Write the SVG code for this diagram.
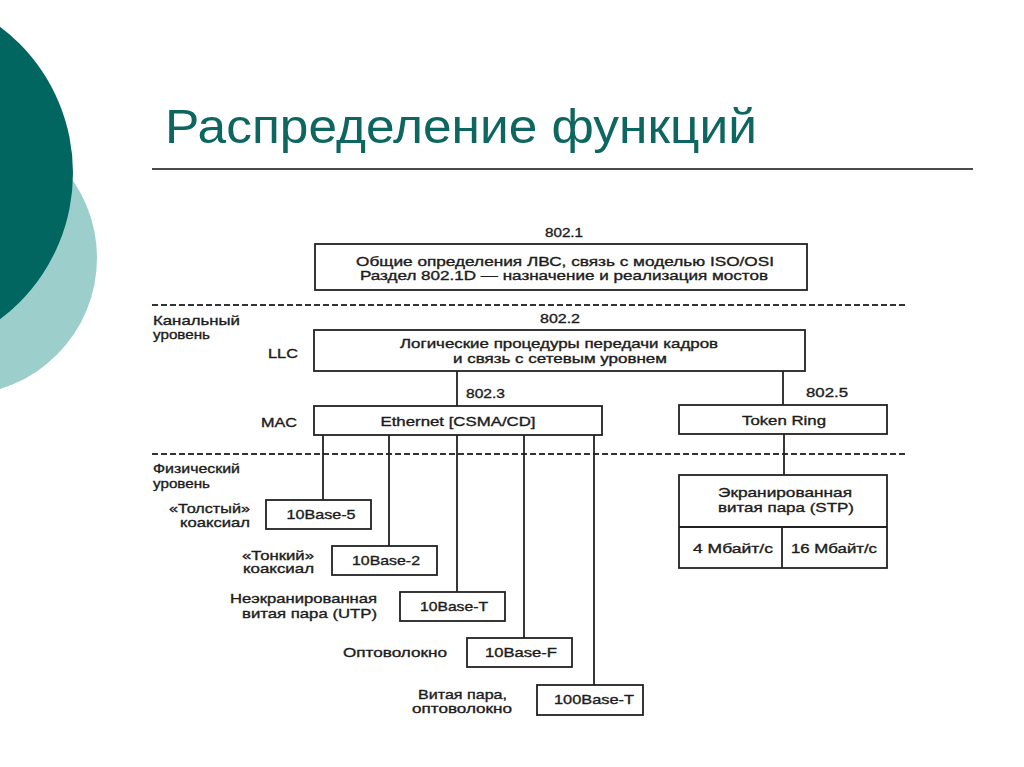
<svg xmlns="http://www.w3.org/2000/svg" width="1024" height="767" viewBox="0 0 1024 767">
<style>
.t{font-family:"Liberation Sans",Arial,sans-serif;font-size:13px;fill:#1c1c1c;stroke:#1c1c1c;stroke-width:0.35}
.m{text-anchor:middle}
.e{text-anchor:end}
.box{fill:#fff;stroke:#222;stroke-width:1.8}
.ln{stroke:#222;stroke-width:1.8;fill:none}
.dash{stroke:#333;stroke-width:2;stroke-dasharray:6 3;fill:none}
</style>
<rect width="1024" height="767" fill="#fff"/>
<g id="decor">
<circle cx="-40" cy="258" r="137" fill="#9ccfcc"/>
<circle cx="-110" cy="173" r="183" fill="#016660"/>
<text x="165" y="143" font-family="Liberation Sans,Arial,sans-serif" font-size="49" fill="#0e6660" textLength="592" lengthAdjust="spacingAndGlyphs">Распределение функций</text>
<line x1="152" y1="169" x2="973" y2="169" stroke="#111" stroke-width="1.5"/>
</g>
<g id="connectors">
<line class="dash" x1="152" y1="305" x2="907" y2="305"/>
<line class="dash" x1="152" y1="454" x2="907" y2="454"/>
<line class="ln" x1="457" y1="371" x2="457" y2="406"/>
<line class="ln" x1="783" y1="371" x2="783" y2="405"/>
<line class="ln" x1="323" y1="435" x2="323" y2="500"/>
<line class="ln" x1="389" y1="435" x2="389" y2="546"/>
<line class="ln" x1="457" y1="435" x2="457" y2="592"/>
<line class="ln" x1="524" y1="435" x2="524" y2="638"/>
<line class="ln" x1="594" y1="435" x2="594" y2="685"/>
<line class="ln" x1="784" y1="434" x2="784" y2="475"/>
</g>
<g id="labels">
<text class="t" x="153" y="325" textLength="87" lengthAdjust="spacingAndGlyphs">Канальный</text>
<text class="t" x="153" y="339" textLength="57" lengthAdjust="spacingAndGlyphs">уровень</text>
<text class="t" x="268" y="358" textLength="30" lengthAdjust="spacingAndGlyphs">LLC</text>
<text class="t" x="261" y="427" textLength="36" lengthAdjust="spacingAndGlyphs">MAC</text>
<text class="t" x="153" y="473" textLength="87" lengthAdjust="spacingAndGlyphs">Физический</text>
<text class="t" x="153" y="488" textLength="57" lengthAdjust="spacingAndGlyphs">уровень</text>
<text class="t" x="466" y="398" textLength="39" lengthAdjust="spacingAndGlyphs">802.3</text>
<text class="t" x="806" y="397" textLength="42" lengthAdjust="spacingAndGlyphs">802.5</text>
<text class="t e" x="250" y="513" textLength="81" lengthAdjust="spacingAndGlyphs">«Толстый»</text>
<text class="t e" x="250" y="527" textLength="70" lengthAdjust="spacingAndGlyphs">коаксиал</text>
<text class="t e" x="314" y="560" textLength="72" lengthAdjust="spacingAndGlyphs">«Тонкий»</text>
<text class="t e" x="314" y="573" textLength="71" lengthAdjust="spacingAndGlyphs">коаксиал</text>
<text class="t e" x="377" y="603" textLength="147" lengthAdjust="spacingAndGlyphs">Неэкранированная</text>
<text class="t e" x="377" y="618" textLength="135" lengthAdjust="spacingAndGlyphs">витая пара (UTP)</text>
<text class="t e" x="447" y="657" textLength="104" lengthAdjust="spacingAndGlyphs">Оптоволокно</text>
<text class="t e" x="507" y="699" textLength="89" lengthAdjust="spacingAndGlyphs">Витая пара,</text>
<text class="t e" x="512" y="713" textLength="100" lengthAdjust="spacingAndGlyphs">оптоволокно</text>
</g>
<g id="n8021">
<text class="t m" x="564" y="237" textLength="38" lengthAdjust="spacingAndGlyphs">802.1</text>
<rect class="box" x="315" y="244" width="492" height="46"/>
<text class="t m" x="565" y="266" textLength="418" lengthAdjust="spacingAndGlyphs">Общие определения ЛВС, связь с моделью ISO/OSI</text>
<text class="t m" x="564" y="280" textLength="408" lengthAdjust="spacingAndGlyphs">Раздел 802.1D — назначение и реализация мостов</text>
</g>
<g id="llc">
<text class="t m" x="560" y="323" textLength="40" lengthAdjust="spacingAndGlyphs">802.2</text>
<rect class="box" x="314" y="330" width="491" height="41"/>
<text class="t m" x="559" y="348" textLength="318" lengthAdjust="spacingAndGlyphs">Логические процедуры передачи кадров</text>
<text class="t m" x="560" y="363" textLength="214" lengthAdjust="spacingAndGlyphs">и связь с сетевым уровнем</text>
</g>
<g id="ethernet">
<rect class="box" x="314" y="406" width="288" height="29"/>
<text class="t m" x="458" y="426" textLength="155" lengthAdjust="spacingAndGlyphs">Ethernet [CSMA/CD]</text>
</g>
<g id="tokenring">
<rect class="box" x="679" y="405" width="208" height="29"/>
<text class="t m" x="784" y="425" textLength="84" lengthAdjust="spacingAndGlyphs">Token Ring</text>
</g>
<g id="b10base5">
<rect class="box" x="266" y="500" width="105" height="29"/>
<text class="t m" x="321" y="519" textLength="69" lengthAdjust="spacingAndGlyphs">10Base-5</text>
</g>
<g id="b10base2">
<rect class="box" x="332" y="546" width="105" height="29"/>
<text class="t m" x="386" y="565" textLength="68" lengthAdjust="spacingAndGlyphs">10Base-2</text>
</g>
<g id="b10baseT">
<rect class="box" x="400" y="592" width="105" height="29"/>
<text class="t m" x="454" y="611" textLength="68" lengthAdjust="spacingAndGlyphs">10Base-T</text>
</g>
<g id="b10baseF">
<rect class="box" x="467" y="638" width="105" height="29"/>
<text class="t m" x="521" y="657" textLength="72" lengthAdjust="spacingAndGlyphs">10Base-F</text>
</g>
<g id="b100baseT">
<rect class="box" x="537" y="685" width="106" height="30"/>
<text class="t m" x="594" y="704" textLength="80" lengthAdjust="spacingAndGlyphs">100Base-T</text>
</g>
<g id="stp">
<rect class="box" x="679" y="475" width="208" height="93"/>
<line class="ln" x1="679" y1="527" x2="887" y2="527"/>
<line class="ln" x1="782" y1="527" x2="782" y2="568"/>
<text class="t m" x="785" y="497" textLength="134" lengthAdjust="spacingAndGlyphs">Экранированная</text>
<text class="t m" x="786" y="512" textLength="136" lengthAdjust="spacingAndGlyphs">витая пара (STP)</text>
<text class="t m" x="733" y="553" textLength="80" lengthAdjust="spacingAndGlyphs">4 Мбайт/с</text>
<text class="t m" x="834" y="553" textLength="86" lengthAdjust="spacingAndGlyphs">16 Мбайт/с</text>
</g>
</svg>
